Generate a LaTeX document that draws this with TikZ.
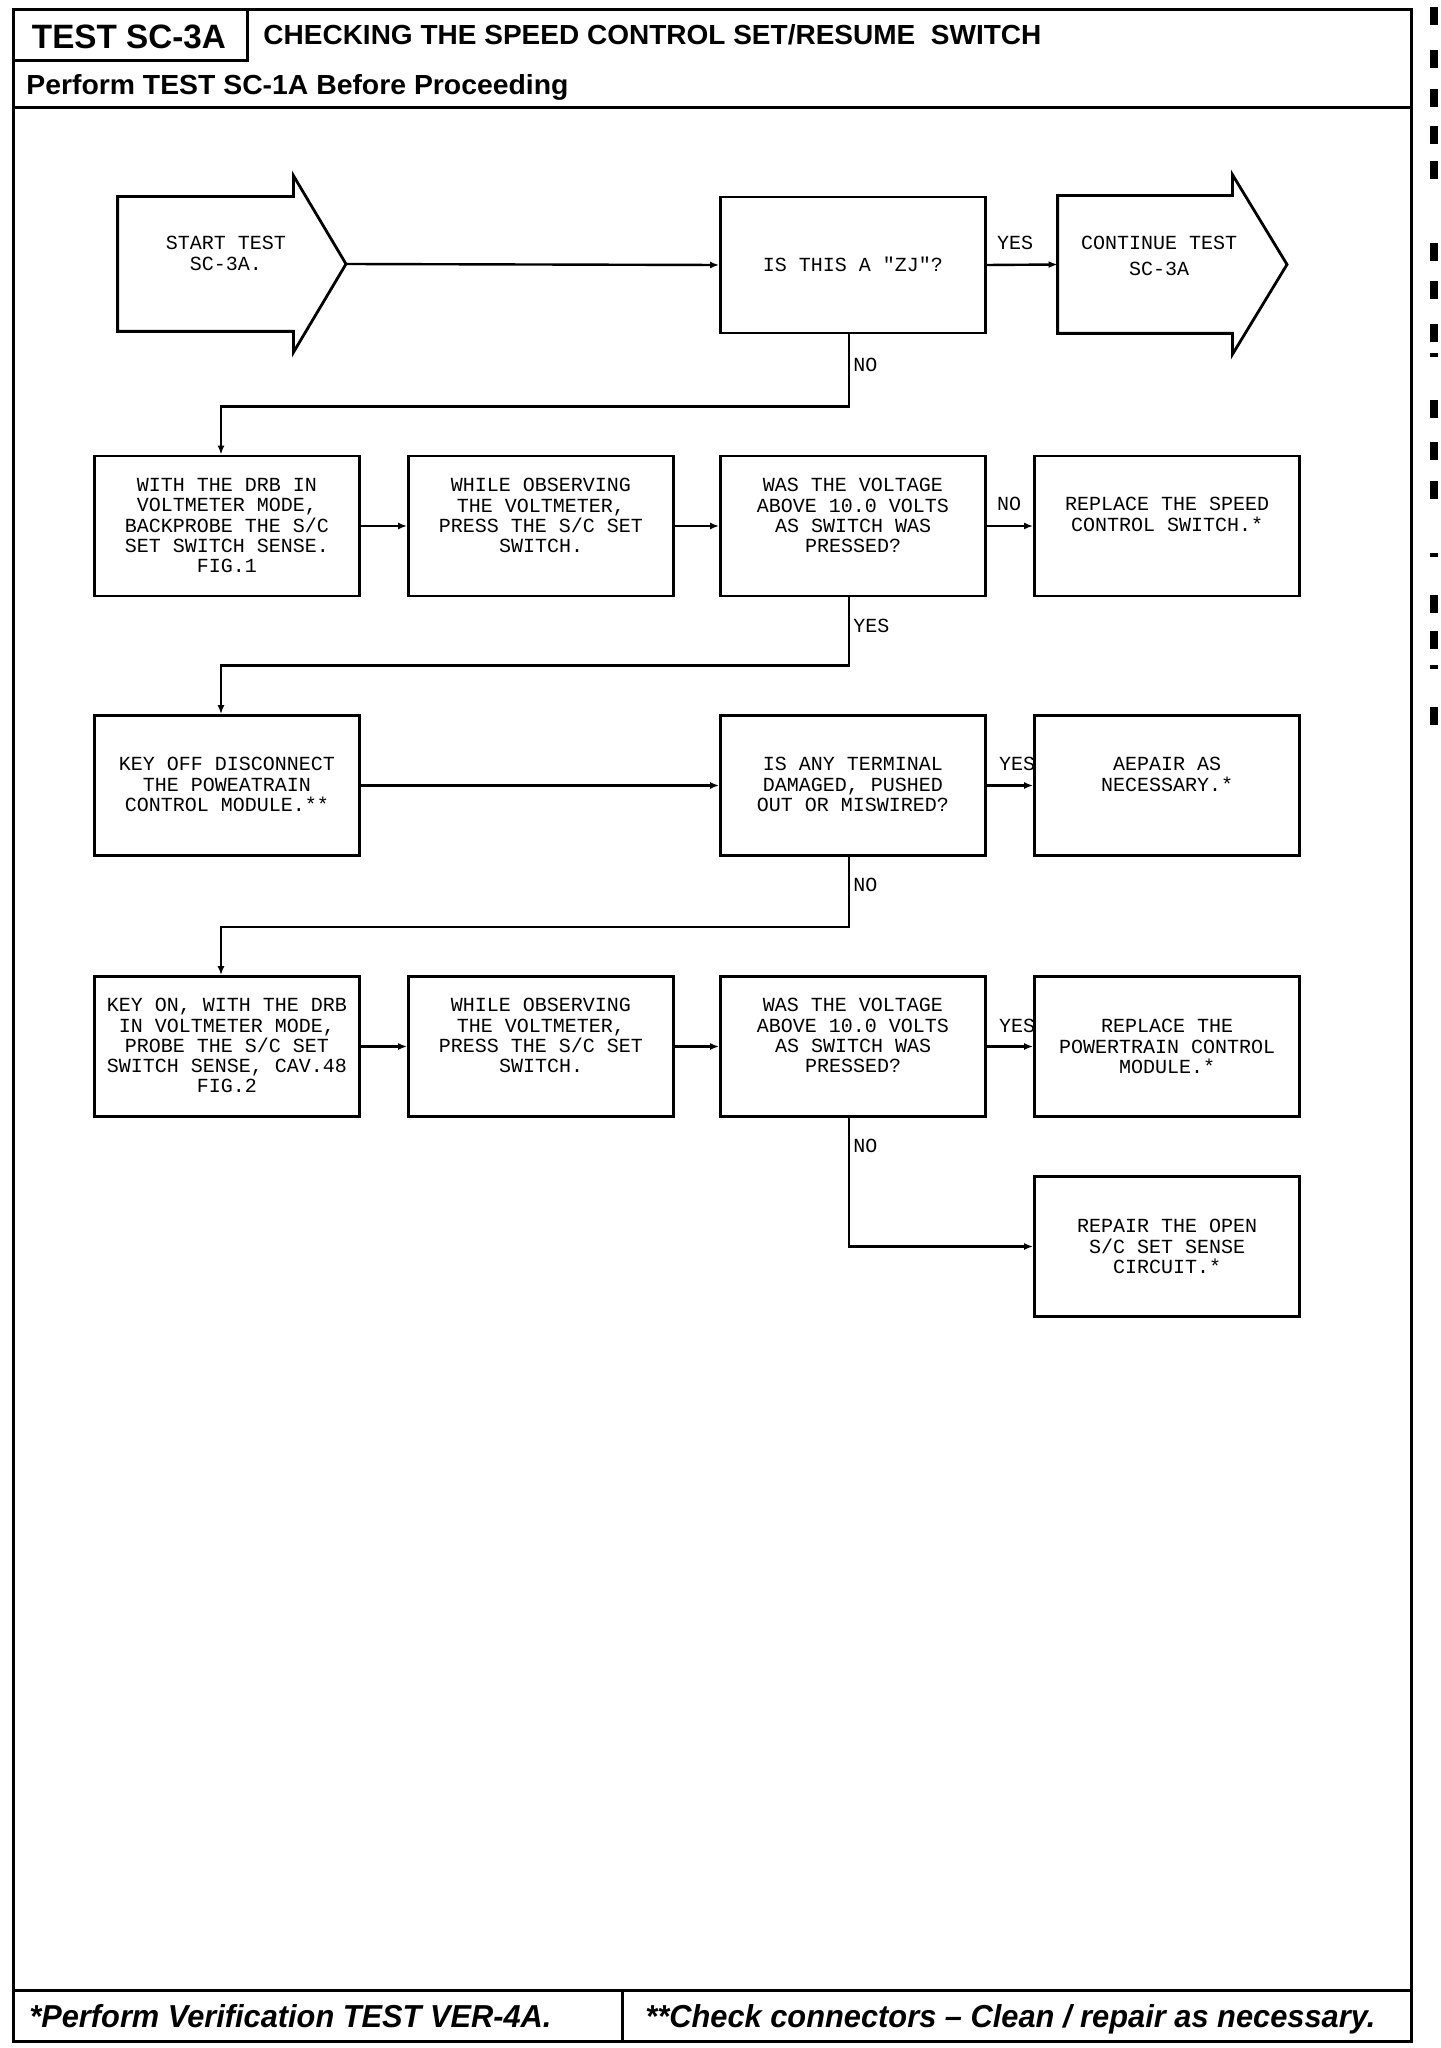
\documentclass[tikz,border=0pt]{standalone}
\usepackage{fontspec}
\setmainfont{Liberation Sans}
\newfontfamily\plotfont{Liberation Mono}
\usetikzlibrary{arrows.meta}
\begin{document}
\begin{tikzpicture}[x=0.5pt,y=-0.5pt,
  box/.style={draw, line width=1.4pt, minimum width=132.5pt, minimum height=70pt, inner sep=0pt},
  txt/.style={font=\plotfont\fontsize{10}{10.15}\selectfont, align=center, inner sep=0pt, anchor=north},
  lbl/.style={font=\plotfont\fontsize{10}{10.15}\selectfont, inner sep=0pt},
  conn/.style={line width=1.2pt, -{Latex[length=4.5pt,width=3.5pt]}},
  frameline/.style={line width=1.5pt},
  bigarrow/.style={line width=1.4pt, line join=miter}
]
\useasboundingbox (0,0) rectangle (1440,2048);
\fill[white] (0,0) rectangle (1440,2048);

% ---------- page frame ----------
\draw[frameline] (13,10) rectangle (1411,2041);
\draw[frameline] (247,10) -- (247,61) -- (13,61);
\draw[frameline] (13,108) -- (1411,108);
\draw[frameline] (13,1990) -- (1411,1990);
\draw[frameline] (622,1990) -- (622,2041);

\node[inner sep=0pt] (title) at (129,37) {\resizebox{97pt}{11.8pt}{\bfseries TEST SC-3A}};
\node[anchor=west, inner sep=0pt] (heading) at (263,35) {\resizebox{389pt}{10pt}{\bfseries CHECKING THE SPEED CONTROL SET/RESUME\ \ SWITCH}};
\node[anchor=base west, inner sep=0pt] (pre) at (26,95) {\resizebox{271pt}{10pt}{\bfseries Perform TEST SC-1A Before Proceeding}};
\node[anchor=base west, inner sep=0pt] (foot1) at (29,2027) {\resizebox{261pt}{11.5pt}{\bfseries\itshape *Perform Verification TEST VER-4A.}};
\node[anchor=base west, inner sep=0pt] (foot2) at (645,2027) {\resizebox{365pt}{11.5pt}{\bfseries\itshape **Check connectors – Clean / repair as necessary.}};

% ---------- row 1 ----------
\node[inner sep=0pt, minimum width=87.5pt, minimum height=67pt] (start) at (205.5,264) {};
\coordinate (starttip) at (346,264);
\draw[bigarrow] (start.north east) -- ([yshift=10.5pt]start.north east) -- (starttip)
  -- ([yshift=-10.5pt]start.south east) -- (start.south east) -- (start.south west)
  -- (start.north west) -- cycle;
\node[txt] (startt) at (226,236) {START TEST\\SC-3A.};

\node[box, minimum height=68pt] (q1) at (853,265) {};
\node[txt] (q1t) at (853,257) {IS THIS A "ZJ"?};

\node[inner sep=0pt, minimum width=87pt, minimum height=68.5pt] (cont) at (1145,264.5) {};
\coordinate (conttip) at (1287,264.5);
\draw[bigarrow] (cont.north east) -- ([yshift=10.5pt]cont.north east) -- (conttip)
  -- ([yshift=-10.5pt]cont.south east) -- (cont.south east) -- (cont.south west)
  -- (cont.north west) -- cycle;
\node[txt] (contt) at (1159,236) {CONTINUE TEST\\[2.9pt]SC-3A};

% ---------- row 2 ----------
\node[box] (b1) at (227,526) {};
\node[box] (b2) at (541,526) {};
\node[box] (q2) at (853,526) {};
\node[box] (r1) at (1167,526) {};
\node[txt] (b1t) at (227,478) {WITH THE DRB IN\\VOLTMETER MODE,\\BACKPROBE THE S/C\\SET SWITCH SENSE.\\FIG.1};
\node[txt] (b2t) at (541,478) {WHILE OBSERVING\\THE VOLTMETER,\\PRESS THE S/C SET\\SWITCH.};
\node[txt] (q2t) at (853,478) {WAS THE VOLTAGE\\ABOVE 10.0 VOLTS\\AS SWITCH WAS\\PRESSED?};
\node[txt] (r1t) at (1167,497) {REPLACE THE SPEED\\CONTROL SWITCH.*};

% ---------- row 3 ----------
\node[box] (b3) at (227,785.5) {};
\node[box] (q3) at (853,785.5) {};
\node[box] (r2) at (1167,785.5) {};
\node[txt] (b3t) at (227,757) {KEY OFF DISCONNECT\\THE POWEATRAIN\\CONTROL MODULE.**};
\node[txt] (q3t) at (853,757) {IS ANY TERMINAL\\DAMAGED, PUSHED\\OUT OR MISWIRED?};
\node[txt] (r2t) at (1167,757) {AEPAIR AS\\NECESSARY.*};

% ---------- row 4 ----------
\node[box] (b4) at (227,1046.5) {};
\node[box] (b5) at (541,1046.5) {};
\node[box] (q4) at (853,1046.5) {};
\node[box] (r3) at (1167,1046.5) {};
\node[txt] (b4t) at (227,998) {KEY ON, WITH THE DRB\\IN VOLTMETER MODE,\\PROBE THE S/C SET\\SWITCH SENSE, CAV.48\\FIG.2};
\node[txt] (b5t) at (541,998) {WHILE OBSERVING\\THE VOLTMETER,\\PRESS THE S/C SET\\SWITCH.};
\node[txt] (q4t) at (853,998) {WAS THE VOLTAGE\\ABOVE 10.0 VOLTS\\AS SWITCH WAS\\PRESSED?};
\node[txt] (r3t) at (1167,1019) {REPLACE THE\\POWERTRAIN CONTROL\\MODULE.*};

% ---------- row 5 ----------
\node[box] (r4) at (1167,1246.5) {};
\node[txt] (r4t) at (1167,1219) {REPAIR THE OPEN\\S/C SET SENSE\\CIRCUIT.*};

% ---------- connectors ----------
\draw[conn] (starttip) -- (q1.west);
\draw[conn] (q1.east) -- (cont.west);
\draw[conn] ([xshift=-2pt]q1.south) -- ++(0,72) -| ([xshift=-3pt]b1.north);
\draw[conn] (b1) -- (b2);
\draw[conn] (b2) -- (q2);
\draw[conn] (q2) -- (r1);
\draw[conn] ([xshift=-2pt]q2.south) -- ++(0,68) -| ([xshift=-3pt]b3.north);
\draw[conn] (b3) -- (q3);
\draw[conn] (q3) -- (r2);
\draw[conn] ([xshift=-2pt]q3.south) -- ++(0,70) -| ([xshift=-3pt]b4.north);
\draw[conn] (b4) -- (b5);
\draw[conn] (b5) -- (q4);
\draw[conn] (q4) -- (r3);
\draw[conn] ([xshift=-2pt]q4.south) |- (r4.west);

% ---------- labels ----------
\node[lbl] (yes1) at (1015,243) {YES};
\node[lbl, anchor=west] (no1) at (853,365) {NO};
\node[lbl] (no2) at (1009,504) {NO};
\node[lbl, anchor=west] (yes2) at (853,626) {YES};
\node[lbl] (yes3) at (1017,764) {YES};
\node[lbl, anchor=west] (no3) at (853,885) {NO};
\node[lbl] (yes4) at (1017,1026) {YES};
\node[lbl, anchor=west] (no4) at (853,1146) {NO};

% ---------- clipped fragments of the neighbouring page ----------
\foreach \yy in {16,59,98,135,170,252,290,333,409,451,490,604,640,716}
  \fill (1430,\yy-9) rectangle (1438,\yy+9);
\foreach \yy in {355,555,667}
  \fill (1430,\yy-2) rectangle (1438,\yy+2);
\end{tikzpicture}
\end{document}
